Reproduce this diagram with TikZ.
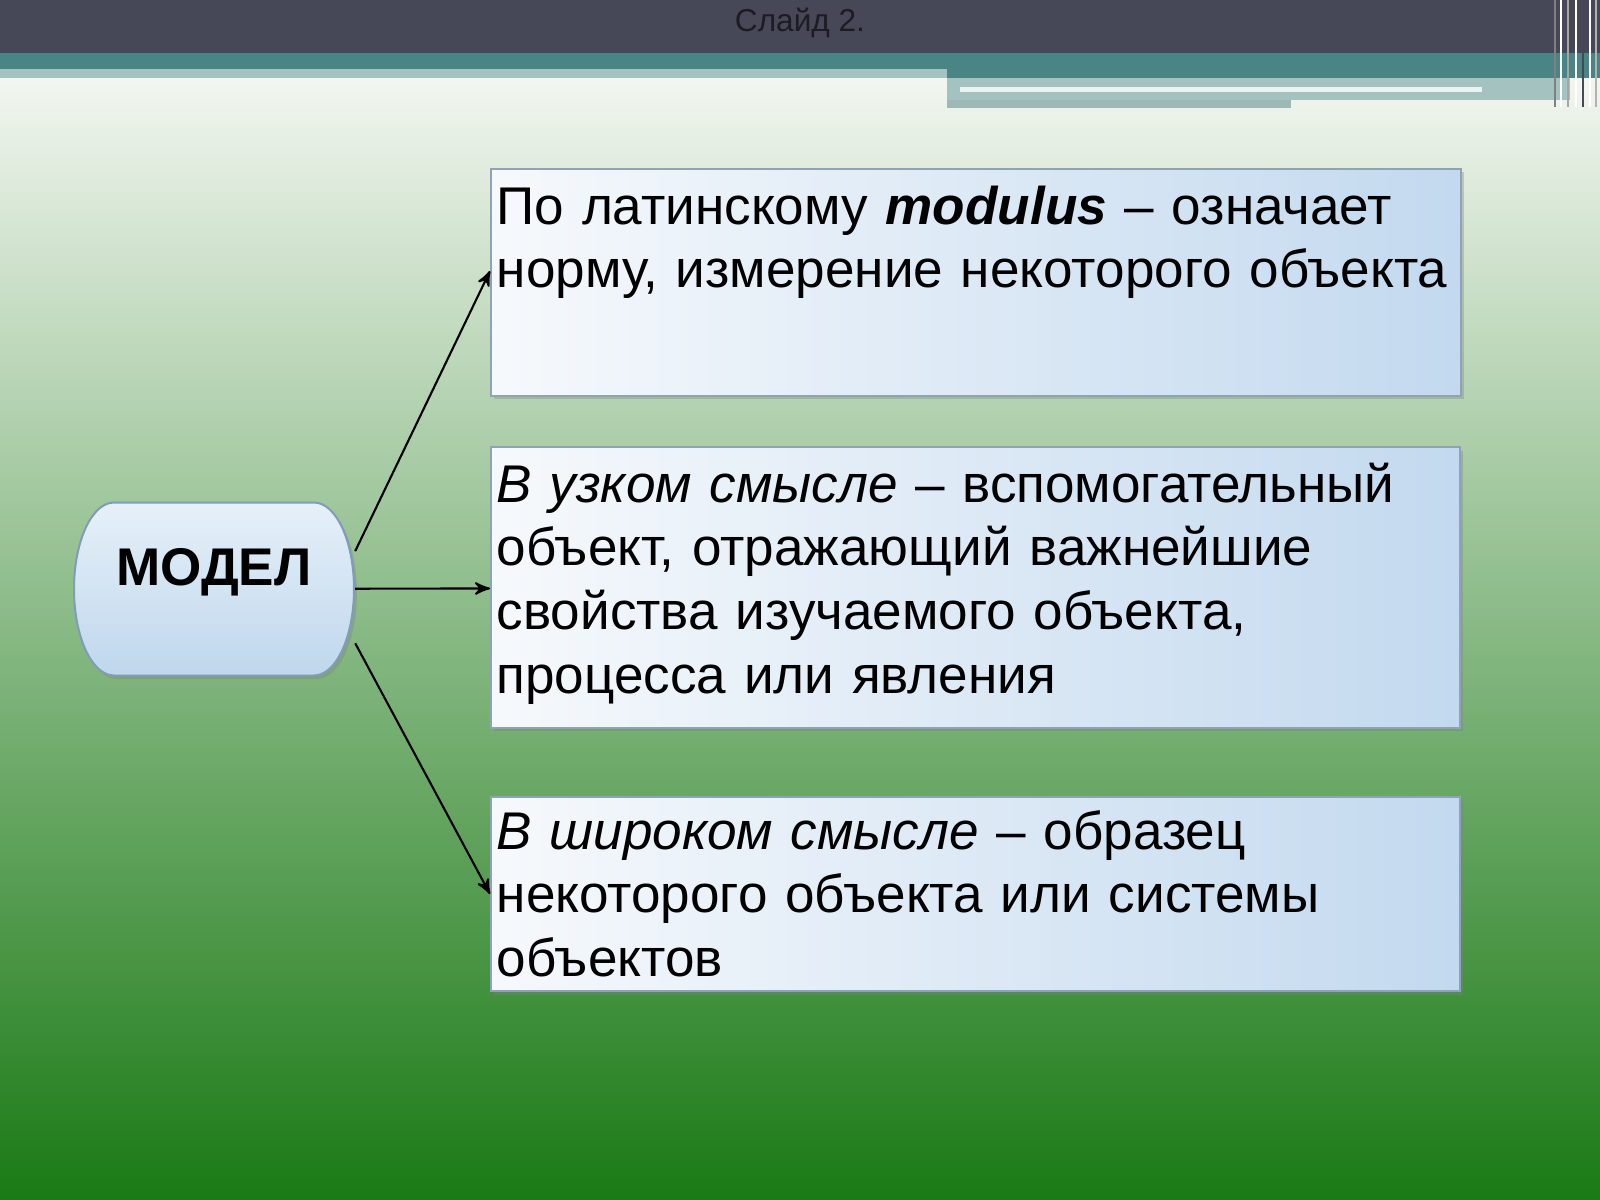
\documentclass[tikz,border=0pt]{standalone}
\usepackage{fontspec}
\setmainfont{Liberation Sans}
\usetikzlibrary{arrows,shapes,shadows,calc}
\definecolor{slidebar}{HTML}{464858}
\definecolor{slideteal}{HTML}{4A8585}
\definecolor{slidepale}{HTML}{A3C2C0}
\definecolor{titlegray}{HTML}{1C1C22}
\definecolor{bgtop}{HTML}{F2F6F0}
\definecolor{bgbottom}{HTML}{1A7A15}
\definecolor{boxleft}{HTML}{F6F9FC}
\definecolor{boxright}{HTML}{C3D9EF}
\definecolor{boxline}{HTML}{8EA3B5}
\definecolor{modeltop}{HTML}{E6F0F9}
\definecolor{modelbottom}{HTML}{BFD7EC}
\definecolor{modelline}{HTML}{7F9DB8}
\tikzset{txtbox/.style={rectangle,draw=boxline,line width=0.2mm,left color=boxleft,right color=boxright,anchor=north west,minimum width=97mm,inner sep=0pt,drop shadow={shadow xshift=0.3mm,shadow yshift=-0.35mm,opacity=0.35}}}
\tikzset{txt/.style={anchor=base west,text width=96mm,align=left,inner sep=0pt,font=\fontsize{15.1}{18.2}\selectfont}}
\tikzset{modelshape/.style={draw=modelline,line width=0.2mm,top color=modeltop,bottom color=modelbottom,drop shadow={shadow xshift=0.3mm,shadow yshift=-0.35mm,opacity=0.35}}}
\tikzset{modeltext/.style={rectangle,minimum width=28.1mm,minimum height=17.3mm,inner sep=0pt,font=\fontsize{15.1}{18}\selectfont\bfseries,text height=4mm,text depth=4.8mm}}
\tikzset{link/.style={->,>=stealth',line width=0.6pt}}

\begin{document}
\begin{tikzpicture}[x=0.1mm,y=-0.1mm]
\useasboundingbox (0,0) rectangle (1600,1200);
\shade[top color=bgtop,bottom color=bgbottom] (0,78) rectangle (1600,1200);
\fill[slidebar] (0,0) rectangle (1600,53);
\fill[slideteal] (0,53) rectangle (1600,78);
\fill[slidepale] (0,69) rectangle (947,78);
\fill[slidepale] (947,78) rectangle (1570,100);
\fill[slidepale!85!gray] (947,100) rectangle (1291,108);
\fill[white!80!slidepale] (960,87) rectangle (1482,92);
\foreach \xs/\tone in {1555/gray,1561/white,1568/gray!70,1576/white,1583/slidebar,1590/white,1596/gray!60}
  \draw[\tone,line width=0.25mm] (\xs,0) -- (\xs,107);
\node[font=\fontsize{9}{10}\selectfont,text=titlegray] (title) at (800,23) {Слайд 2.};

\coordinate (mc) at (214,589);
\path[modelshape] (mc) ++(-100,-86.5) -- ++(200,0)
  arc[start angle=90,end angle=-90,x radius=4mm,y radius=8.65mm] -- ++(-200,0)
  arc[start angle=270,end angle=90,x radius=4mm,y radius=8.65mm] -- cycle;
\node[modeltext] (model) at (mc) {МОДЕЛ};
\node[txtbox,minimum height=22.7mm] (box1) at (490,168) {};
\node[txtbox,minimum height=28.1mm,minimum width=96.9mm] (box2) at (490,446) {};
\node[txtbox,minimum height=19.4mm,minimum width=96.9mm] (box3) at (490,796) {};
\node[txt] (t1) at (496,224) {По латинскому \textbf{\textit{modulus}} – означает\\ норму, измерение некоторого объекта};
\node[txt] (t2) at (496,502) {\textit{В узком смысле} – вспомогательный\\ объект, отражающий важнейшие\\ свойства изучаемого объекта,\\ процесса или явления};
\node[txt] (t3) at (496,849) {\textit{В широком смысле} – образец\\ некоторого объекта или системы\\ объектов};

\draw[link] (model.15) -- ([yshift=1.15mm]box1.west);
\draw[link] (model) -- (box2);
\draw[link] (model.-21) -- (box3.west);
\end{tikzpicture}
\end{document}
